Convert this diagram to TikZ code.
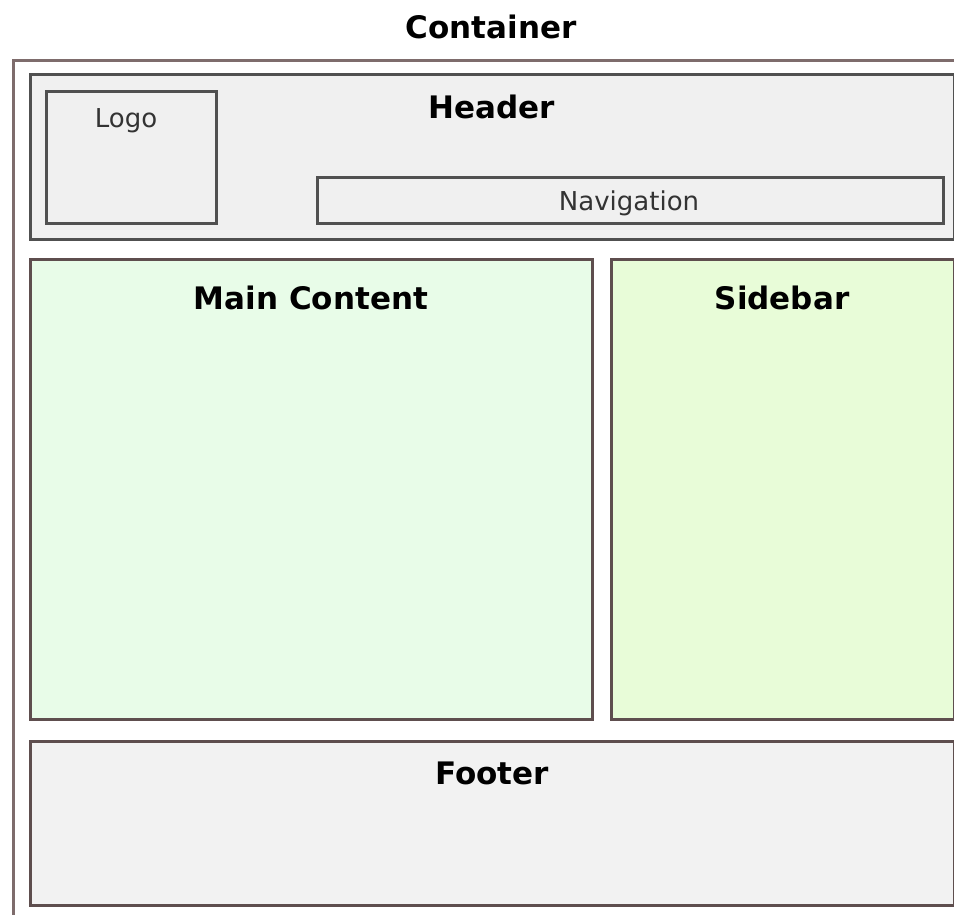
\documentclass[tikz,border=0pt]{standalone}
\usepackage{fontspec}
\setmainfont{DejaVu Sans}
\usetikzlibrary{positioning}
\definecolor{contline}{HTML}{7E6C6C}
\definecolor{boxline}{HTML}{505050}
\definecolor{arealine}{HTML}{5E4E4E}
\definecolor{greyfill}{HTML}{F0F0F0}
\definecolor{footfill}{HTML}{F2F2F2}
\definecolor{mainfill}{HTML}{E8FCE8}
\definecolor{sidefill}{HTML}{E8FCD8}
\tikzset{
  area/.style={draw=arealine, line width=2.6pt, inner sep=0pt, anchor=north west},
  inbox/.style={draw=boxline, line width=2.6pt, inner sep=0pt, anchor=north west, fill=greyfill},
  title/.style={font=\bfseries\fontsize{31}{36}\selectfont, anchor=base, inner sep=0pt},
  plain/.style={font=\fontsize{26}{31}\selectfont, text=black!80, anchor=base, inner sep=0pt}
}
\begin{document}
\begin{tikzpicture}[x=1pt,y=-1pt]
\useasboundingbox (0,0) rectangle (954,914);
% container outline (cut off at the right and bottom)
\coordinate (ctr) at (960,60);
\coordinate (ctl) at (13,60);
\coordinate (cbl) at (13,920);
\draw[contline, line width=3pt] (ctr) -- (ctl) -- (cbl);
\node[title] (containerT) at (491,38) {Container};
% header
\node[inbox, minimum width=924pt, minimum height=165pt] (header) at (29,73) {};
\node[title] (headerT) at (492,118) {Header};
\node[inbox, minimum width=170pt, minimum height=132pt] (logo) at (45,90) {};
\node[plain] (logoT) at (126,127) {Logo};
\node[inbox, minimum width=626pt, minimum height=46pt] (nav) at (316,176) {};
\node[plain] (navT) at (629,210) {Navigation};
% main + sidebar
\node[area, fill=mainfill, minimum width=562pt, minimum height=460pt] (main) at (29,258) {};
\node[title] (mainT) at (311,309) {Main Content};
\node[area, fill=sidefill, minimum width=343pt, minimum height=460pt] (side) at (610,258) {};
\node[title] (sideT) at (782,309) {Sidebar};
% footer
\node[area, fill=footfill, minimum width=924pt, minimum height=164pt] (footer) at (29,740) {};
\node[title] (footT) at (492,784) {Footer};
\end{tikzpicture}
\end{document}
